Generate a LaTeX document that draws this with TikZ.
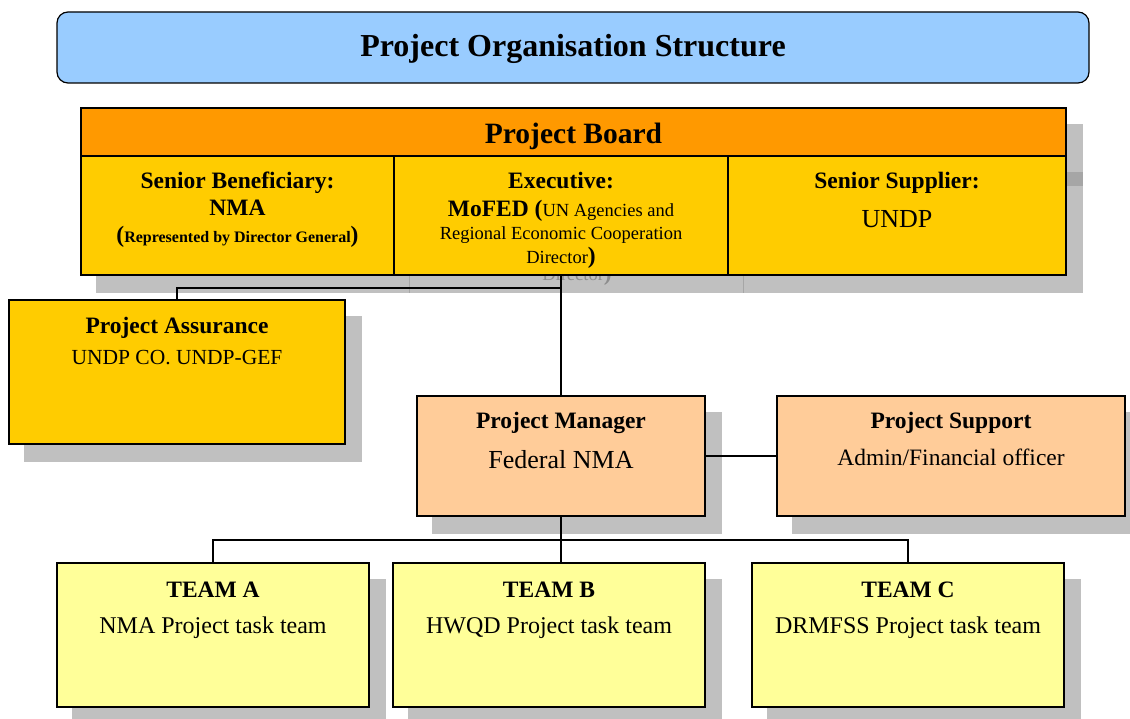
\documentclass[tikz,border=0pt]{standalone}
\usepackage{fontspec}
\setmainfont{Liberation Serif}
\usetikzlibrary{positioning,backgrounds}
\definecolor{titlefill}{HTML}{99CCFF}
\definecolor{boardhead}{HTML}{FF9900}
\definecolor{boardcell}{HTML}{FFCC00}
\definecolor{mgrfill}{HTML}{FFCC99}
\definecolor{teamfill}{HTML}{FFFF99}
\definecolor{shadowgray}{HTML}{C0C0C0}
\definecolor{shadowdark}{HTML}{A6A6A6}
\tikzset{
  box/.style={draw=black, line width=1.2pt, inner sep=0pt},
  link/.style={draw=black, line width=1.2pt},
  hd/.style={font=\bfseries\fontsize{23.5}{27}\selectfont, anchor=base, inner sep=0pt},
  tx/.style={font=\fontsize{24}{28}\selectfont, anchor=base, inner sep=0pt},
  smalltx/.style={tx, font=\fontsize{18.5}{22}\selectfont}
}

\begin{document}
\begin{tikzpicture}[x=1pt,y=-1pt]
  \useasboundingbox (0,0) rectangle (1130,719);
  % title banner
  \node[box, fill=titlefill, rounded corners=11pt, minimum width=1032pt, minimum height=71pt] (title) at (573,47.5) {};
  \node[hd, font=\bfseries\fontsize{32}{36}\selectfont] (titletext) at ([yshift=-45pt]title.north) {Project Organisation Structure};

  % project board
  \node[box, fill=boardhead, minimum width=985pt, minimum height=48pt] (board) at (573.5,132) {};
  \node[hd, font=\bfseries\fontsize{29.5}{33}\selectfont] (boardtext) at ([yshift=-36pt]board.north) {Project Board};
  \node[box, fill=boardcell, minimum width=313pt, minimum height=119pt] (benef) at (237.5,215.5) {};
  \node[box, fill=boardcell, minimum width=334pt, minimum height=119pt] (exec) at (561,215.5) {};
  \node[box, fill=boardcell, minimum width=338pt, minimum height=119pt] (supp) at (897,215.5) {};

  \node[hd] (benefA) at ([yshift=-33pt]benef.north) {Senior Beneficiary:};
  \node[hd] (benefB) at ([yshift=-60pt]benef.north) {NMA};
  \node[hd] (benefC) at ([yshift=-87pt]benef.north)
    {({\fontsize{16}{18}\selectfont Represented by Director General})};

  \node[hd] (execA) at ([yshift=-33pt]exec.north) {Executive:};
  \node[hd] (execB) at ([yshift=-61pt]exec.north)
    {MoFED ({\mdseries\fontsize{18.5}{22}\selectfont UN Agencies and}};
  \node[smalltx] (execC) at ([yshift=-84pt]exec.north) {Regional Economic Cooperation};
  \node[smalltx] (execD) at ([yshift=-108pt]exec.north)
    {Director{\bfseries\fontsize{23.5}{27}\selectfont)}};

  \node[hd] (suppA) at ([yshift=-33pt]supp.north) {Senior Supplier:};
  \node[tx, font=\fontsize{26}{30}\selectfont] (suppB) at ([yshift=-72pt]supp.north) {UNDP};

  % assurance, manager, support
  \node[box, fill=boardcell, minimum width=336pt, minimum height=144pt] (assure) at (177,372) {};
  \node[hd] (assureA) at ([yshift=-34pt]assure.north) {Project Assurance};
  \node[tx, font=\fontsize{21.5}{25}\selectfont] (assureB) at ([yshift=-65pt]assure.north) {UNDP CO. UNDP-GEF};

  \node[box, fill=mgrfill, minimum width=288pt, minimum height=120pt] (pm) at (561,456) {};
  \node[hd] (pmA) at ([yshift=-33pt]pm.north) {Project Manager};
  \node[tx, font=\fontsize{26}{30}\selectfont] (pmB) at ([yshift=-73pt]pm.north) {Federal NMA};

  \node[box, fill=mgrfill, minimum width=348pt, minimum height=120pt] (ps) at (951,456) {};
  \node[hd] (psA) at ([yshift=-33pt]ps.north) {Project Support};
  \node[tx, font=\fontsize{23.5}{27}\selectfont] (psB) at ([yshift=-70pt]ps.north) {Admin/Financial officer};

  % teams
  \foreach \t/\x/\who in {A/213/NMA, B/549/HWQD, C/908/DRMFSS} {
    \node[box, fill=teamfill, minimum width=312pt, minimum height=144pt] (team\t) at (\x,635) {};
    \node[hd] (team\t A) at ([yshift=-35pt]team\t.north) {TEAM \t};
    \node[tx] (team\t B) at ([yshift=-71pt]team\t.north) {\who\ Project task team};
  }

  % connectors
  \coordinate (boardtap) at (561,288);
  \coordinate (teamtap) at (561,540);
  \draw[link] (exec.south) -- (pm.north);
  \draw[link] (assure.north) |- (boardtap);
  \draw[link] (pm.east) -- (ps.west);
  \draw[link] (pm.south) -- (teamtap);
  \draw[link] (teamA.north) |- (teamtap);
  \draw[link] (teamC.north) |- (teamtap);
  \draw[link] (teamtap) -- (teamtap |- teamB.north);

  % shadows
  \begin{scope}[on background layer]
    \fill[shadowgray] ([shift={(16,17)}]board.north west) rectangle ([shift={(16,17)}]supp.south east);
    \fill[shadowdark] ([shift={(16,15)}]board.south west) rectangle ([shift={(16,31)}]supp.north east);
    \draw[shadowdark, line width=1.2pt] ([shift={(16,17)}]exec.north west) -- ([shift={(16,17)}]exec.south west);
    \draw[shadowdark, line width=1.2pt] ([shift={(16,17)}]supp.north west) -- ([shift={(16,17)}]supp.south west);
    \node[smalltx, text=shadowdark!85!black] (execghost) at ([shift={(16,17)}]execD.base)
      {Director{\bfseries\fontsize{23.5}{27}\selectfont)}};
    \foreach \n in {assure,pm,ps,teamA,teamB,teamC}
      \fill[shadowgray] ([shift={(16,17)}]\n.north west) rectangle ([shift={(16,17)}]\n.south east);
  \end{scope}
\end{tikzpicture}
\end{document}
